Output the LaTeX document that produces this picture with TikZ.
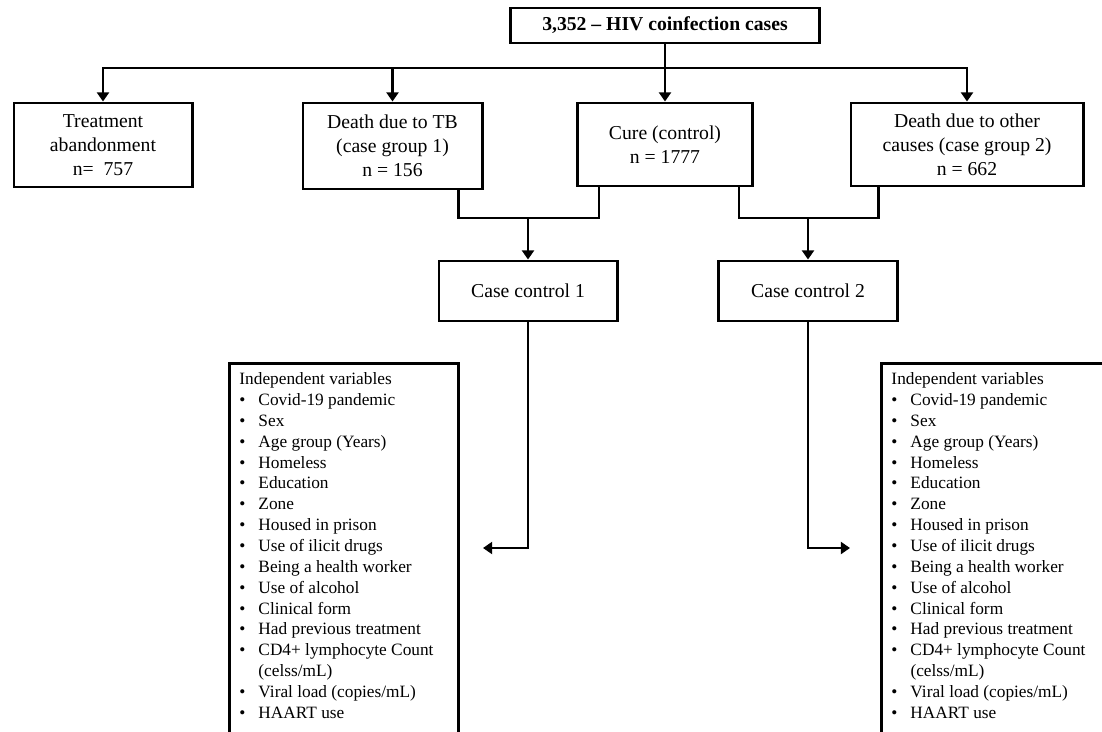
\documentclass[tikz,border=0pt]{standalone}
\usepackage{fontspec}
\setmainfont{Liberation Serif}
\usetikzlibrary{arrows.meta}

\newcommand{\vitem}[1]{\makebox[0.475cm][l]{\textbullet}#1\\}
\newcommand{\varlist}{%
\parbox[t][9.4cm][t]{5.225cm}{\fontsize{12.3}{14.83}\selectfont
Independent variables\\
\vitem{Covid-19 pandemic}
\vitem{Sex}
\vitem{Age group (Years)}
\vitem{Homeless}
\vitem{Education}
\vitem{Zone}
\vitem{Housed in prison}
\vitem{Use of ilicit drugs}
\vitem{Being a health worker}
\vitem{Use of alcohol}
\vitem{Clinical form}
\vitem{Had previous treatment}
\vitem{CD4+ lymphocyte Count}
\hspace*{0.475cm}(celss/mL)\\
\vitem{Viral load (copies/mL)}
\makebox[0.475cm][l]{\textbullet}HAART use}}

\begin{document}
\begin{tikzpicture}[x=0.025cm, y=-0.025cm,
		box/.style={draw, line width=2.1pt, align=center, inner sep=0pt,
			font=\fontsize{14}{17}\selectfont},
		varbox/.style={draw, line width=2.1pt, anchor=north west,
			inner xsep=0.25cm, inner ysep=0.23cm},
		conn/.style={line width=2.1pt},
		arr/.style={conn, -{Triangle[length=6.5pt, width=8.5pt]}}]

		\useasboundingbox (0,0) rectangle (1102,731);
		\clip (0,0) rectangle (1102,731);

		\node [box, minimum width=7.7cm, minimum height=0.875cm, font=\fontsize{14}{17}\selectfont\bfseries]
			(total) at (665,25.5) {3,352 -- HIV coinfection cases};

		\node [box, minimum width=4.45cm, minimum height=2.1cm] (aband) at (103,145)
			{Treatment\\abandonment\\n=~ 757};
		\node [box, minimum width=4.475cm, minimum height=2.15cm] (deathtb) at (392.5,146)
			{Death due to TB\\(case group 1)\\n = 156};
		\node [box, minimum width=4.375cm, minimum height=2.075cm] (cure) at (665,144.5)
			{Cure (control)\\n = 1777};
		\node [box, minimum width=5.8cm, minimum height=2.075cm] (deathoth) at (967,144.5)
			{Death due to other\\causes (case group 2)\\n = 662};

		\node [box, minimum width=4.45cm, minimum height=1.5cm] (cc1) at (528,291) {Case control 1};
		\node [box, minimum width=4.475cm, minimum height=1.5cm] (cc2) at (808,291) {Case control 2};

		\node [varbox] (vars1) at (228,362) {\varlist};
		\node [varbox] (vars2) at (880,362) {\varlist};

		\coordinate (hl) at (665,68);
		\coordinate (jn1) at (528,218);
		\coordinate (jn2) at (808,218);
		\coordinate (in1) at (483,548);
		\coordinate (in2) at (850,548);

		\draw [arr] (total) -- (cure);
		\draw [arr] (hl) -| (aband.north);
		\draw [arr] (hl) -| (deathoth.north);
		\draw [arr] (deathtb.north |- hl) -- (deathtb.north);

		\draw [conn] ([xshift=-0.625cm]deathtb.south east) |- (jn1) -| ([xshift=0.575cm]cure.south west);
		\draw [conn] ([xshift=-0.375cm]cure.south east) |- (jn2) -| ([xshift=0.725cm]deathoth.south west);
		\draw [arr] (jn1) -- (cc1.north);
		\draw [arr] (jn2) -- (cc2.north);

		\draw [arr] (cc1.south) |- (in1);
		\draw [arr] (cc2.south) |- (in2);

		\end{tikzpicture}
\end{document}
